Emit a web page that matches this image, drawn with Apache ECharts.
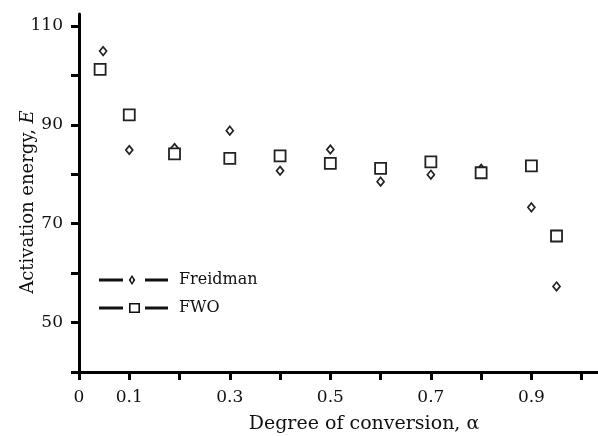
<!DOCTYPE html>
<html><head><meta charset="utf-8">
<script src="https://cdn.jsdelivr.net/npm/echarts@6/dist/echarts.min.js"></script>
<style>html,body{margin:0;padding:0;background:#fff}#c{width:598px;height:436px}</style>
</head><body><div id="c"></div>
<script>
const freidmanAlpha = [0.048, 0.1, 0.19, 0.3, 0.4, 0.5, 0.6, 0.7, 0.8, 0.9, 0.95];
const freidmanE     = [104.9, 84.9, 85.3, 88.8, 80.7, 85.0, 78.5, 79.9, 81.1, 73.3, 57.3];
const fwoAlpha      = [0.042, 0.1, 0.19, 0.3, 0.4, 0.5, 0.6, 0.7, 0.8, 0.9, 0.95];
const fwoE          = [101.2, 92.0, 84.1, 83.2, 83.7, 82.2, 81.2, 82.5, 80.3, 81.7, 67.5];
const xTickValues  = [0, 0.1, 0.2, 0.3, 0.4, 0.5, 0.6, 0.7, 0.8, 0.9, 1.0];
const xLabelValues = [0, 0.1, 0.3, 0.5, 0.7, 0.9];
const yTickValues  = [40, 50, 60, 70, 80, 90, 100, 110];
const yLabelValues = [50, 70, 90, 110];
const seriesNames  = ['Freidman', 'FWO'];

const zip = (a, b) => a.map((v, i) => [v, b[i]]);
const FONT = 'DejaVu Serif';
const ink = '#111';

const diamondIcon = 'path://M0 3.4 L24 3.4 L24 6.6 L0 6.6 Z M33 0 L36.3 5 L33 10 L29.7 5 Z M33 2.3 L31.8 5 L33 7.7 L34.2 5 Z M46 3.4 L69 3.4 L69 6.6 L46 6.6 Z';
const squareIcon = 'path://M0 3.4 L24 3.4 L24 6.6 L0 6.6 Z M30 0 L41 0 L41 10 L30 10 Z M31.6 1.6 L31.6 8.4 L39.4 8.4 L39.4 1.6 Z M46 3.4 L69 3.4 L69 6.6 L46 6.6 Z';

const chart = echarts.init(document.getElementById('c'), null, {renderer: 'canvas'});
chart.setOption({
  animation: false,
  backgroundColor: '#fff',
  grid: {left: 79, right: 0, top: 14, bottom: 64, containLabel: false, outerBoundsMode: 'none'},
  legend: {
    orient: 'vertical', left: 99, top: 272, padding: 0, itemWidth: 69, itemHeight: 10, itemGap: 12,
    textStyle: {fontFamily: FONT, fontSize: 16, color: ink, lineHeight: 16, padding: [0, 0, 0, 6]},
    itemStyle: {color: ink, borderWidth: 0},
    data: [
      {name: seriesNames[0], icon: diamondIcon},
      {name: seriesNames[1], icon: squareIcon}
    ]
  },
  xAxis: {
    type: 'value', min: 0, max: 1.0325,
    name: 'Degree of conversion, α', nameLocation: 'middle', nameGap: 43, nameMoveOverlap: false,
    nameTextStyle: {fontFamily: FONT, fontSize: 19, color: ink, padding: [0, 0, 0, 51]},
    axisLine: {show: true, lineStyle: {color: '#000', width: 3}},
    axisTick: {show: true, length: 8, lineStyle: {color: '#000', width: 3}, customValues: xTickValues},
    axisLabel: {fontFamily: FONT, fontSize: 17, color: ink, margin: 17, customValues: xLabelValues,
      formatter: v => String(v)},
    splitLine: {show: false}
  },
  yAxis: {
    type: 'value', min: 40, max: 112.4,
    name: 'Activation energy, {i|E}', nameLocation: 'middle', nameGap: 42, nameMoveOverlap: false,
    nameTextStyle: {fontFamily: FONT, fontSize: 18, color: ink, padding: [0, 18, 0, 0],
      rich: {i: {fontFamily: FONT, fontSize: 18, fontStyle: 'italic', color: ink}}},
    axisLine: {show: true, lineStyle: {color: '#000', width: 3}},
    axisTick: {show: true, length: 8, lineStyle: {color: '#000', width: 3}, customValues: yTickValues},
    axisLabel: {fontFamily: FONT, fontSize: 17, color: ink, margin: 16, customValues: yLabelValues},
    splitLine: {show: false}
  },
  series: [
    {name: seriesNames[0], type: 'scatter', symbol: 'diamond', symbolSize: [7, 8.5],
     itemStyle: {color: '#fff', borderColor: '#222', borderWidth: 1.7, opacity: 1},
     data: zip(freidmanAlpha, freidmanE)},
    {name: seriesNames[1], type: 'scatter', symbol: 'rect', symbolSize: [11, 11],
     itemStyle: {color: '#fff', borderColor: '#222', borderWidth: 1.8, opacity: 1},
     data: zip(fwoAlpha, fwoE)}
  ]
});
</script></body></html>
